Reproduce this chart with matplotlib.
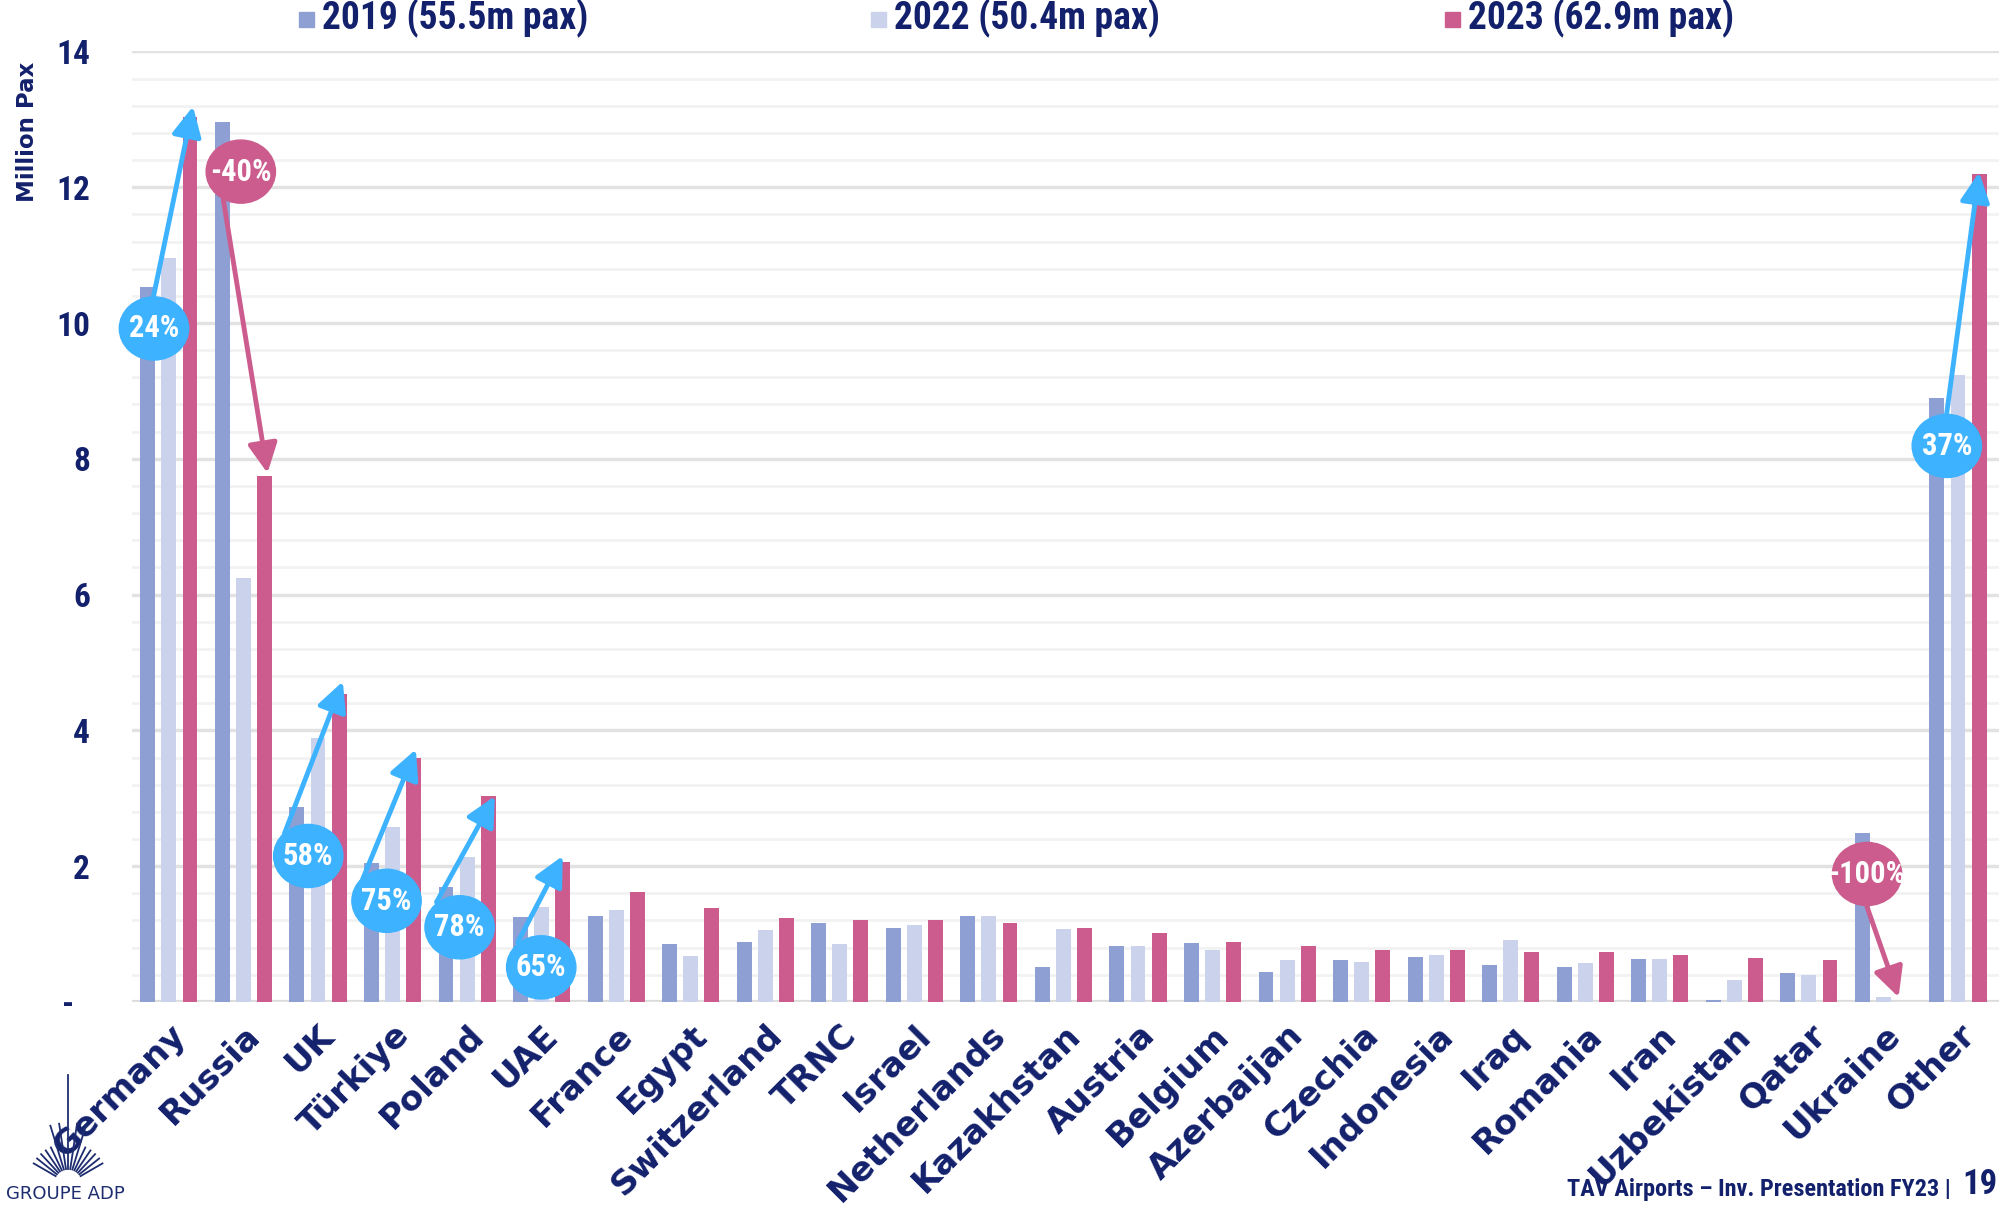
import numpy as np
import matplotlib
matplotlib.use("Agg")
import matplotlib.pyplot as plt
from matplotlib import font_manager
from matplotlib.patches import Ellipse, Rectangle
from matplotlib.lines import Line2D

# passengers by country, million pax
countries = ['Germany', 'Russia', 'UK', 'Türkiye', 'Poland', 'UAE', 'France', 'Egypt',
             'Switzerland', 'TRNC', 'Israel', 'Netherlands', 'Kazakhstan', 'Austria',
             'Belgium', 'Azerbaijan', 'Czechia', 'Indonesia', 'Iraq', 'Romania', 'Iran',
             'Uzbekistan', 'Qatar', 'Ukraine', 'Other']
pax_2019 = [10.53, 12.96, 2.87, 2.05, 1.70, 1.25, 1.27, 0.85, 0.88, 1.16, 1.09, 1.27, 0.51,
            0.83, 0.87, 0.44, 0.62, 0.66, 0.55, 0.52, 0.64, 0.03, 0.42, 2.49, 8.90]
pax_2022 = [10.96, 6.25, 3.89, 2.57, 2.14, 1.40, 1.35, 0.68, 1.06, 0.85, 1.14, 1.26, 1.08,
            0.82, 0.76, 0.62, 0.59, 0.69, 0.91, 0.57, 0.64, 0.32, 0.39, 0.08, 9.24]
pax_2023 = [13.04, 7.75, 4.54, 3.59, 3.03, 2.06, 1.62, 1.38, 1.23, 1.21, 1.20, 1.17, 1.09,
            1.02, 0.89, 0.82, 0.77, 0.76, 0.73, 0.73, 0.69, 0.65, 0.62, 0.0, 12.20]
legend_labels = ['2019 (55.5m pax)', '2022 (50.4m pax)', '2023 (62.9m pax)']

# growth bubbles: category, bubble centre, arrow start, arrow tip offset from the 2023 bar top
callouts = [
    ('Germany', (-0.20, 9.92), (-0.21, 10.37), (0.04, 0.15)),
    ('Russia', (0.965, 12.23), (0.73, 11.82), (0.04, 0.04)),
    ('UK', (1.87, 2.15), (1.55, 2.48), (0.05, 0.18)),
    ('Türkiye', (2.92, 1.49), (2.60, 1.81), (0.03, 0.13)),
    ('Poland', (3.90, 1.10), (3.59, 1.47), (0.09, 0.0)),
    ('UAE', (4.995, 0.51), (4.68, 0.88), (0.0, 0.09)),
    ('Ukraine', (22.78, 1.885), (22.78, 1.40), (-0.08, 0.07)),
    ('Other', (23.85, 8.19), (23.84, 8.60), (0.0, 0.02)),
]

navy = '#13216c'
colors = ['#8e9fd4', '#cbd3ec', '#cb5c8d']
up_col = '#3db2ff'
down_col = '#cb5c8d'

installed = {f.name for f in font_manager.fontManager.ttflist}
narrow = 'DejaVu Sans'
for cand in ['Liberation Sans Narrow', 'Roboto Condensed', 'Open Sans Condensed']:
    if cand in installed:
        narrow = cand
        break
wide = 'DejaVu Sans'

fig = plt.figure(figsize=(20.03, 12.05), dpi=100)
ax = fig.add_axes([0.0657, 0.1685, 0.9323, 0.7888])

x = np.arange(len(countries))
step, w = 0.283, 0.2
for k, vals in enumerate([pax_2019, pax_2022, pax_2023]):
    ax.bar(x + (k - 1) * step, vals, w, color=colors[k], zorder=2)

ax.set_xlim(-0.5, 24.55)
ax.set_ylim(0, 14)
ax.set_yticks(np.arange(0, 15, 2))
ax.set_yticks(np.arange(0, 14.01, 0.4), minor=True)
ax.set_yticklabels(['-  '] + [str(v) for v in range(2, 15, 2)],
                   fontsize=24, fontweight='bold', color=navy, family=narrow)
ax.grid(axis='y', which='minor', color='#f2f2f2', lw=2, zorder=0)
ax.grid(axis='y', which='major', color='#e2e2e2', lw=2.5, zorder=0)
ax.axhline(0, color='#d9d9d9', lw=3, zorder=1)
ax.tick_params(axis='y', which='both', length=0, pad=30)
ax.tick_params(axis='x', length=0, pad=12)
for s in ax.spines.values():
    s.set_visible(False)

ax.set_xticks(x)
ax.set_xticklabels(countries, rotation=45, ha='right', va='top', rotation_mode='anchor',
                   fontsize=24.5, fontweight='bold', color=navy, family=wide)
ax.set_ylabel('Million Pax', fontsize=16.5, fontweight='bold', color=navy, labelpad=0)
ax.yaxis.set_label_coords(-0.0495, 0.915)

# bubbles with arrows from 2019 to 2023
for name, centre, start, (dx, dy) in callouts:
    i = countries.index(name)
    growth = round((pax_2023[i] / pax_2019[i] - 1) * 100)
    col = up_col if growth >= 0 else down_col
    tip = (i + step + dx, pax_2023[i] + dy)
    arr = ax.annotate('', xy=tip, xytext=start,
                      arrowprops=dict(arrowstyle='-|>,head_length=0.9,head_width=0.45',
                                      color=col, lw=3.5, shrinkA=0, shrinkB=0,
                                      mutation_scale=20),
                      zorder=4, annotation_clip=False)
    arr.arrow_patch.set_clip_on(False)
    ax.add_patch(Ellipse(centre, 0.93, 0.93, color=col, zorder=5, clip_on=False))
    ax.text(centre[0], centre[1], f'{growth}%', ha='center', va='center', color='white',
            fontsize=22, fontweight='bold', family=narrow, zorder=6, clip_on=False)

# legend across the top
leg_x = [0.1493, 0.4348, 0.7214]
for lx, lab, col in zip(leg_x, legend_labels, colors):
    fig.add_artist(Rectangle((lx, 0.9775), 0.0075, 0.0128, color=col, transform=fig.transFigure))
    fig.text(lx + 0.0115, 0.9845, lab, fontsize=27, fontweight='bold', color=navy,
             family=narrow, va='center', ha='left')

# footer
fig.text(0.9738, 0.003, 'TAV Airports – Inv. Presentation FY23 |', fontsize=17.5,
         fontweight='bold', color=navy, family=narrow, ha='right', va='bottom')
fig.text(0.9795, 0.003, '19', fontsize=25, fontweight='bold', color=navy,
         family=narrow, ha='left', va='bottom')

# company mark, bottom left
fig.text(0.003, 0.002, 'GROUPE ADP', fontsize=13, color='#1e2d70', ha='left', va='bottom')
cx, cy = 0.034, 0.018
for ang in np.linspace(-60, 60, 15):
    a = np.deg2rad(ang)
    r0 = 0.012
    r1 = 0.09 if abs(ang) < 5 else (0.05 if abs(ang) < 20 else 0.033)
    fig.add_artist(Line2D([cx + r0 * np.sin(a) * 0.6, cx + r1 * np.sin(a) * 0.6],
                          [cy + r0 * np.cos(a), cy + r1 * np.cos(a)],
                          color='#1e2d70', lw=1.3, transform=fig.transFigure))

fig.savefig('out.png', dpi=100)
